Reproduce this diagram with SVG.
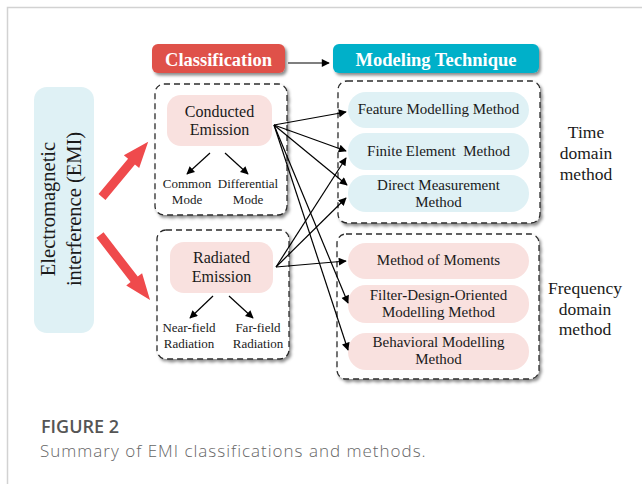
<svg xmlns="http://www.w3.org/2000/svg" width="642" height="484" viewBox="0 0 642 484">
<style>
.t{font-family:"Liberation Serif","Times New Roman",serif;fill:#1a1a1a;text-anchor:middle}
.grp{fill:#fff;stroke:#2b2b2b;stroke-width:1.3;stroke-dasharray:6 4}
.pink{fill:#f9e1df}
.cyan{fill:#dff1f5}
.con{stroke:#000;stroke-width:1.2;fill:none;marker-end:url(#ah)}
.hdr{font-family:"Liberation Serif","Times New Roman",serif;font-weight:bold;fill:#fff;text-anchor:middle;font-size:18.5px}
</style>
<defs>
<marker id="ah" viewBox="0 0 10 10" refX="9" refY="5" markerWidth="9" markerHeight="8" markerUnits="userSpaceOnUse" orient="auto">
<path d="M0,0 L10,5 L0,10 Z" fill="#000"/>
</marker>
<filter id="sh" x="-10%" y="-10%" width="130%" height="140%">
<feDropShadow dx="2" dy="2.5" stdDeviation="1.8" flood-color="#000" flood-opacity="0.45"/>
</filter>
</defs>
<rect width="642" height="484" fill="#fff"/>
<path d="M7.5,484 L7.5,7.5 L642,7.5" fill="none" stroke="#d2d2d2" stroke-width="1.5"/>

<g id="emi">
<rect x="34" y="87" width="60" height="246" rx="13" class="cyan"/>
<text class="t" font-size="20.5" transform="translate(55,209) rotate(-90)">Electromagnetic</text>
<text class="t" font-size="20.5" transform="translate(81,209) rotate(-90)">interference (EMI)</text>
</g>

<g id="red-arrows" fill="#ef4a4c">
<path d="M0,-4.5 L46,-4.5 L46,-10 L72,0 L46,10 L46,4.5 L0,4.5 Z" transform="translate(102,197) rotate(-50.1)"/>
<path d="M0,-4.5 L56,-4.5 L56,-10 L82,0 L56,10 L56,4.5 L0,4.5 Z" transform="translate(100,235) rotate(52.4)"/>
</g>

<g id="classification">
<rect x="152" y="44" width="133" height="29" rx="6" fill="#df5148" filter="url(#sh)"/>
<text class="hdr" x="218.5" y="66">Classification</text>
</g>
<g id="modeling">
<rect x="333" y="44" width="206" height="29" rx="6" fill="#00b0c9" filter="url(#sh)"/>
<text class="hdr" x="436" y="66">Modeling Technique</text>
</g>

<g id="conducted-group">
<rect x="155" y="84" width="132" height="131" rx="9" class="grp" filter="url(#sh)"/>
<rect x="167" y="95" width="105" height="51" rx="14" class="pink"/>
<text class="t" font-size="16" x="219.5" y="117">Conducted</text>
<text class="t" font-size="16" x="219.5" y="135">Emission</text>
<text class="t" font-size="13" x="187" y="188">Common</text>
<text class="t" font-size="13" x="187" y="204">Mode</text>
<text class="t" font-size="13" x="248" y="188">Differential</text>
<text class="t" font-size="13" x="248" y="204">Mode</text>
</g>

<g id="radiated-group">
<rect x="157" y="230" width="132" height="129" rx="9" class="grp" filter="url(#sh)"/>
<rect x="170" y="242" width="103" height="51" rx="14" class="pink"/>
<text class="t" font-size="16" x="221.5" y="263">Radiated</text>
<text class="t" font-size="16" x="221.5" y="282">Emission</text>
<text class="t" font-size="13" x="189" y="332">Near-field</text>
<text class="t" font-size="13" x="189" y="348">Radiation</text>
<text class="t" font-size="13" x="258" y="332">Far-field</text>
<text class="t" font-size="13" x="258" y="348">Radiation</text>
</g>

<g id="time-group">
<rect x="338" y="81" width="202" height="142" rx="9" class="grp" filter="url(#sh)"/>
<rect x="348" y="92" width="181" height="36" rx="18" class="cyan"/>
<rect x="348" y="133" width="181" height="37" rx="18" class="cyan"/>
<rect x="348" y="175" width="181" height="37" rx="18" class="cyan"/>
<text class="t" font-size="15" x="438.5" y="114">Feature Modelling Method</text>
<text class="t" font-size="15" x="438.5" y="156" xml:space="preserve">Finite Element  Method</text>
<text class="t" font-size="15" x="438.5" y="190">Direct Measurement</text>
<text class="t" font-size="15" x="438.5" y="207">Method</text>
</g>
<g id="time-label">
<text class="t" font-size="17.5" x="586" y="138">Time</text>
<text class="t" font-size="17.5" x="586" y="159">domain</text>
<text class="t" font-size="17.5" x="586" y="180">method</text>
</g>

<g id="freq-group">
<rect x="337" y="234" width="202" height="145" rx="9" class="grp" filter="url(#sh)"/>
<rect x="348" y="243" width="181" height="36" rx="18" class="pink"/>
<rect x="348" y="285" width="181" height="38" rx="18" class="pink"/>
<rect x="348" y="333" width="181" height="37" rx="18" class="pink"/>
<text class="t" font-size="15" x="438.5" y="265">Method of Moments</text>
<text class="t" font-size="15" x="438.5" y="300">Filter<tspan font-weight="bold">-</tspan>Design<tspan font-weight="bold">-</tspan>Oriented</text>
<text class="t" font-size="15" x="438.5" y="317">Modelling Method</text>
<text class="t" font-size="15" x="438.5" y="347">Behavioral Modelling</text>
<text class="t" font-size="15" x="438.5" y="364">Method</text>
</g>
<g id="freq-label">
<text class="t" font-size="17.5" x="585" y="294">Frequency</text>
<text class="t" font-size="17.5" x="585" y="315">domain</text>
<text class="t" font-size="17.5" x="585" y="335">method</text>
</g>

<g id="connectors">
<line class="con" x1="288" y1="63" x2="329" y2="63"/>
<line class="con" x1="210" y1="153" x2="187" y2="174"/>
<line class="con" x1="225" y1="153" x2="248" y2="174"/>
<line class="con" x1="213" y1="296" x2="190" y2="318"/>
<line class="con" x1="229" y1="296" x2="253" y2="318"/>
<line class="con" x1="274" y1="125" x2="346" y2="112"/>
<line class="con" x1="274" y1="125" x2="346" y2="151"/>
<line class="con" x1="274" y1="125" x2="347" y2="185"/>
<line class="con" x1="274" y1="125" x2="348" y2="303"/>
<line class="con" x1="274" y1="125" x2="348" y2="350"/>
<line class="con" x1="276" y1="267" x2="346" y2="158"/>
<line class="con" x1="276" y1="267" x2="346" y2="198"/>
<line class="con" x1="276" y1="267" x2="346" y2="261"/>
</g>

<g id="caption">
<text x="41" y="433" font-family="'Open Sans','Noto Sans',sans-serif" font-size="18" font-weight="600" fill="#555">FIGURE 2</text>
<text x="40" y="456.5" font-family="'Open Sans','Noto Sans',sans-serif" font-size="17" font-weight="300" letter-spacing="1" fill="#666">Summary of EMI classifications and methods.</text>
</g>
</svg>
